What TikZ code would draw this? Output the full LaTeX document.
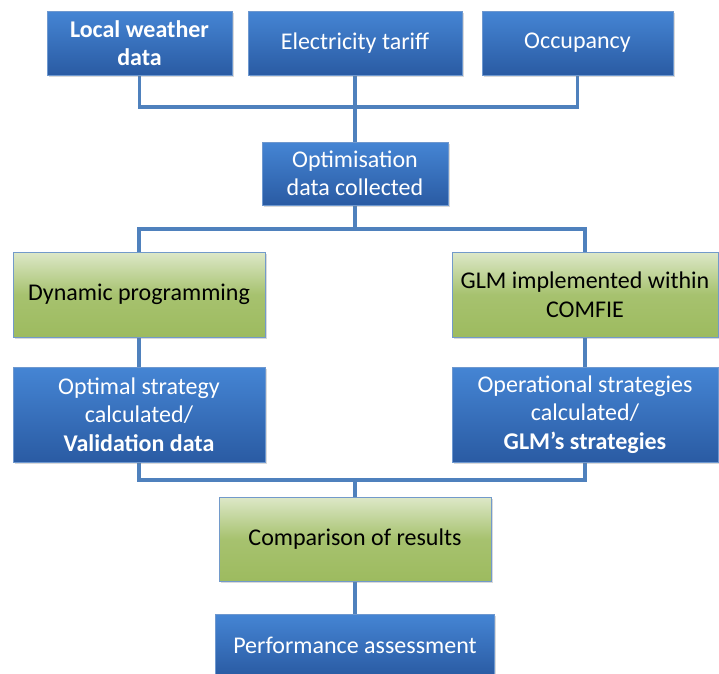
\documentclass[tikz,border=0pt]{standalone}
\usepackage{fontspec}
\setmainfont{Carlito}
\usepackage{xcolor}
\usepackage{tikz}
\usetikzlibrary{positioning,shadows,calc,backgrounds}

\definecolor{blueTop}{HTML}{4585D4}
\definecolor{blueBot}{HTML}{2A5BA3}
\definecolor{greenTop}{HTML}{DDE8C8}
\definecolor{greenBot}{HTML}{9DBB5F}
\definecolor{linkBlue}{HTML}{4F81BD}
\definecolor{rimBlue}{HTML}{6E98CF}

\tikzset{
  box/.style={inner sep=0pt, align=center, line width=0.8pt,
    font=\fontsize{24}{28.5}\selectfont,
    drop shadow={opacity=0.3, shadow xshift=1.5pt, shadow yshift=-2pt}},
  bluebox/.style={box, draw=rimBlue, top color=blueTop, bottom color=blueBot, text=white},
  greenbox/.style={box, draw=linkBlue!80, top color=greenTop, bottom color=greenBot, text=black,
    middle color=greenBot!85!greenTop},
  link/.style={draw=linkBlue, line width=3.5pt}
}

\begin{document}
\begin{tikzpicture}[x=1pt,y=-1pt]
\useasboundingbox (0,0) rectangle (719,673);

% inputs
\node[bluebox, minimum width=185pt, minimum height=64pt] (weather) at (139.5,43) {\textbf{Local weather}\\\textbf{data}};
\node[bluebox, minimum width=214pt, minimum height=64pt] (tariff) at (355,43) {Electricity tariff};
\node[bluebox, minimum width=191pt, minimum height=64pt] (occup) at (577.5,43) {Occupancy};

\node[bluebox, minimum width=186pt, minimum height=63pt] (optim) at (355,173.5) {Optimisation\\data collected};

% two methods
\node[greenbox, minimum width=252pt, minimum height=85pt] (dynprog) at (139,294.5) {Dynamic programming};
\node[greenbox, minimum width=266pt, minimum height=85pt] (glm) at (585,294.5) {GLM implemented within\\COMFIE};

\node[bluebox, minimum width=252pt, minimum height=95pt] (optstrat) at (139,414.5) {Optimal strategy\\calculated/\\\textbf{Validation data}};
\node[bluebox, minimum width=266pt, minimum height=95pt] (opstrat) at (585,414.5) {Operational strategies\\calculated/\\\textbf{GLM's strategies}};

% results
\node[greenbox, minimum width=272pt, minimum height=84pt] (compare) at (355,539) {Comparison of results};
\node[bluebox, minimum width=279pt, minimum height=62pt] (perf) at (355,645) {Performance assessment};

\coordinate (join1) at (355,107);
\coordinate (join2) at (355,229);
\coordinate (join3) at (355,480);

\begin{scope}[on background layer]
\draw[link] (weather.south) |- (join1) -| (occup.south);
\draw[link] (tariff.south) -- (optim.north);
\draw[link] (optim.south) -- (join2);
\draw[link] (dynprog.north) |- (join2) -| (glm.north);
\draw[link] (dynprog.south) -- (optstrat.north);
\draw[link] (glm.south) -- (opstrat.north);
\draw[link] (optstrat.south) |- (join3) -| (opstrat.south);
\draw[link] (join3) -- (compare.north);
\draw[link] (compare.south) -- (perf.north);
\end{scope}

\end{tikzpicture}
\end{document}
